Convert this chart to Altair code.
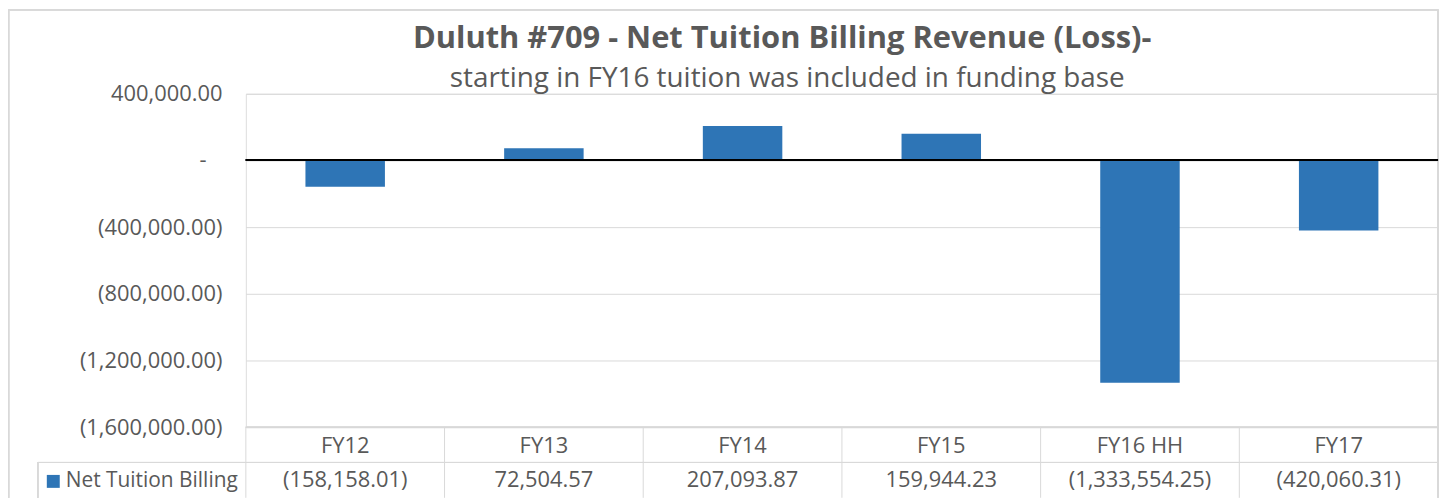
import altair as alt
import pandas as pd

categories = ["FY12", "FY13", "FY14", "FY15", "FY16 HH", "FY17"]
values = [-158158.01, 72504.57, 207093.87, 159944.23, -1333554.25, -420060.31]
series_name = "Net Tuition Billing"
y_ticks = [400000, 0, -400000, -800000, -1200000, -1600000]

title_text = "Duluth #709 - Net Tuition Billing Revenue (Loss)-"
subtitle_text = "starting in FY16 tuition was included in funding base"

FONT = "Open Sans"
GRAY = "#595959"
LINE = "#D9D9D9"
BLUE = "#2E75B6"
FS = 22

W, H = 1198, 335
TABLE_ROW = 35.5

df = pd.DataFrame({"cat": categories, "v": values, "series": series_name})

x_scale = alt.Scale(domain=categories, paddingInner=0, paddingOuter=0)
x_enc = alt.X("cat:N", scale=x_scale, axis=None, sort=categories)
y_scale = alt.Scale(domain=[-1600000, 400000], nice=False, zero=False)

label_expr = (
    "datum.value < 0 ? '(' + format(-datum.value, ',.2f') + ')' : "
    "(datum.value == 0 ? '' : format(datum.value, ',.2f'))"
)

base = alt.Chart(df)

bars = base.mark_bar(width=alt.RelativeBandSize(0.4)).encode(
    x=x_enc,
    y=alt.Y(
        "v:Q",
        scale=y_scale,
        title=None,
        axis=alt.Axis(
            values=y_ticks,
            labelExpr=label_expr,
            grid=True,
            gridColor=LINE,
            gridWidth=1,
            domain=False,
            ticks=False,
            labelPadding=24,
            labelFont=FONT,
            labelFontSize=FS,
            labelColor=GRAY,
        ),
    ),
    color=alt.Color(
        "series:N",
        scale=alt.Scale(range=[BLUE]),
        legend=alt.Legend(
            orient="none",
            legendX=-204,
            legendY=379,
            title=None,
            symbolType="square",
            symbolSize=169,
            symbolStrokeWidth=0,
            symbolOpacity=1,
            labelFont=FONT,
            labelFontSize=21,
            labelColor=GRAY,
            labelOffset=2,
            labelLimit=0,
        ),
    ),
)

# zero tick label shown as a dash, as in accounting format
zero_label = alt.Chart(pd.DataFrame({"z": [0], "t": ["-"]})).mark_text(
    font=FONT, fontSize=FS, color=GRAY, align="center", baseline="middle"
).encode(y=alt.Y("z:Q", scale=y_scale), x=alt.value(-43), text="t:N")

zero_line = base.mark_rule(color="black", strokeWidth=2).encode(
    y=alt.value(H / 5 - 0.5),
    x=alt.value(0),
    x2=alt.value(W),
)

# data table: category row and value row
cat_text = base.mark_text(font=FONT, fontSize=FS, color=GRAY).encode(
    x=x_enc, y=alt.value(H + TABLE_ROW / 2 + 1), text="cat:N"
)
val_text = (
    base.transform_calculate(
        lab="datum.v < 0 ? '(' + format(-datum.v, ',.2f') + ')' : format(datum.v, ',.2f')"
    )
    .mark_text(font=FONT, fontSize=FS, color=GRAY)
    .encode(x=x_enc, y=alt.value(H + TABLE_ROW * 1.5), text="lab:N")
)

vlines = base.mark_rule(color=LINE, strokeWidth=1).encode(
    x=alt.X("cat:N", scale=x_scale, axis=None, sort=categories, bandPosition=0),
    y=alt.value(H),
    y2=alt.value(H + 2 * TABLE_ROW),
)
right_vline = base.mark_rule(color=LINE, strokeWidth=1).encode(
    x=alt.value(W), y=alt.value(-85), y2=alt.value(H + 2 * TABLE_ROW)
)
legend_vline = base.mark_rule(color=LINE, strokeWidth=1).encode(
    x=alt.value(-209), y=alt.value(H + TABLE_ROW), y2=alt.value(H + 2 * TABLE_ROW)
)
mid_hline = base.mark_rule(color=LINE, strokeWidth=1).encode(
    x=alt.value(-209), x2=alt.value(W), y=alt.value(H + TABLE_ROW)
)
top_hline = base.mark_rule(color=LINE, strokeWidth=1).encode(
    x=alt.value(0), x2=alt.value(W), y=alt.value(H)
)
# outer chart border
border_top = base.mark_rule(color=LINE, strokeWidth=1.5).encode(
    x=alt.value(-238.5), x2=alt.value(W), y=alt.value(-84.5)
)
border_left = base.mark_rule(color=LINE, strokeWidth=1.5).encode(
    x=alt.value(-238.5), y=alt.value(-84.5), y2=alt.value(H + 2 * TABLE_ROW)
)

# chart title and subtitle
title_df = pd.DataFrame({"t": [title_text]})
sub_df = pd.DataFrame({"t": [subtitle_text]})
title_mark = alt.Chart(title_df).mark_text(
    font=FONT, fontSize=31, fontWeight="bold", color=GRAY, align="center", baseline="alphabetic"
).encode(text="t:N", x=alt.value(539), y=alt.value(-46))
sub_mark = alt.Chart(sub_df).mark_text(
    font=FONT, fontSize=28, color=GRAY, align="center", baseline="alphabetic"
).encode(text="t:N", x=alt.value(544), y=alt.value(-7))

chart = (
    alt.layer(
        border_top, border_left, top_hline, mid_hline, vlines, right_vline,
        legend_vline, bars, zero_line, zero_label, cat_text, val_text, title_mark, sub_mark,
    )
    .properties(
        width=W,
        height=H,
        padding={"left": 239, "top": 85, "right": 3, "bottom": 71},
        autosize=alt.AutoSizeParams(type="none"),
    )
    .configure_view(stroke=None)
    .configure(background="white")
)

chart.save("out.html", embed_options={"renderer": "svg", "actions": False})
